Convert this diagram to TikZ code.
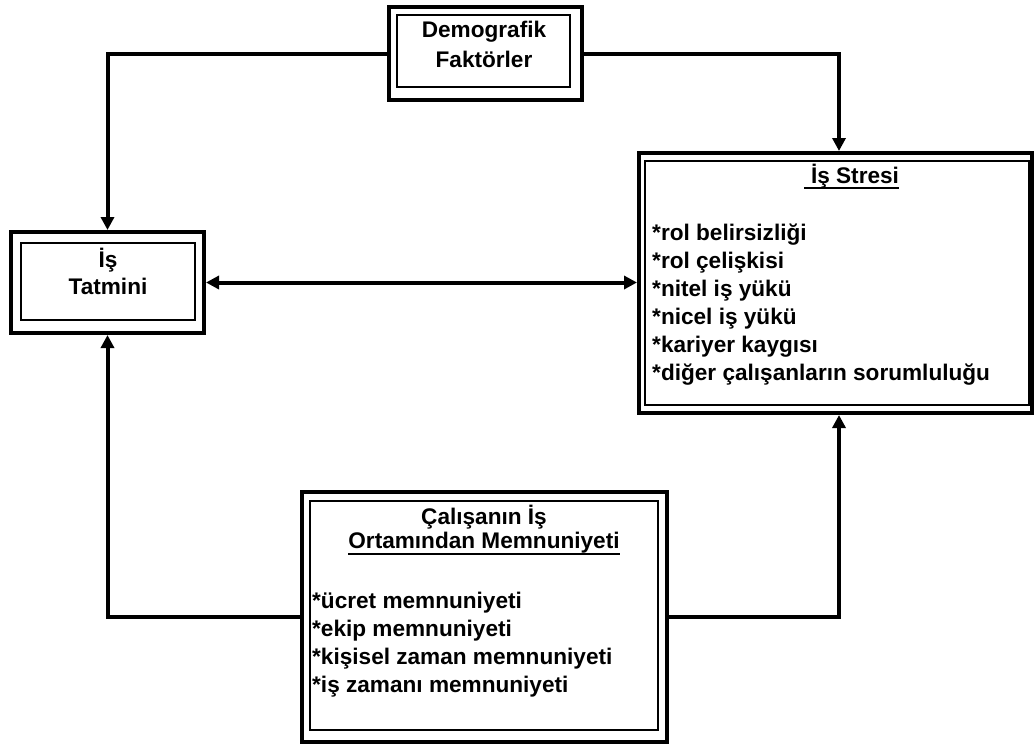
\documentclass[tikz,border=0pt]{standalone}
\usepackage{fontspec}
\setmainfont{Liberation Sans}
\usetikzlibrary{arrows.meta,calc}
\begin{document}
\begin{tikzpicture}[x=1pt,y=-1pt,
  outerbox/.style={draw,line width=4pt,inner sep=0pt},
  innerbox/.style={draw,line width=1.5pt,inner sep=0pt},
  txt/.style={font=\bfseries\fontsize{22.6}{28}\selectfont,inner sep=0pt},
  conn/.style={line width=4pt},
  arr/.style={conn,-{Triangle[length=13pt,width=13pt]}},
  darr/.style={conn,{Triangle[length=13pt,width=13pt]}-{Triangle[length=13pt,width=13pt]}},
  uline/.style={line width=2pt}]
\useasboundingbox (0,0) rectangle (1035,745);

% boxes
\node[outerbox,minimum width=193pt,minimum height=93pt] (demo) at (485.5,53.5) {};
\node[innerbox,minimum width=173pt,minimum height=72pt] (demoin) at (483.5,51) {};
\node[outerbox,minimum width=193pt,minimum height=101pt] (tat) at (107.5,282.5) {};
\node[innerbox,minimum width=174pt,minimum height=77pt] (tatin) at (108,281.5) {};
\node[outerbox,minimum width=393pt,minimum height=260pt] (stres) at (835.5,283) {};
\node[innerbox,minimum width=384pt,minimum height=244pt] (stresin) at (837,283) {};
\node[outerbox,minimum width=365pt,minimum height=250pt] (memn) at (484.5,617) {};
\node[innerbox,minimum width=348pt,minimum height=229pt] (memnin) at (484,615.5) {};

% texts
\node[txt,anchor=base] (d1) at (484,37) {Demografik};
\node[txt,anchor=base] (d2) at (484,67) {Faktörler};
\node[txt,anchor=base] (t1) at (108,267) {İş};
\node[txt,anchor=base] (t2) at (108,294) {Tatmini};
\node[txt,anchor=base] (st) at (855,183) {İş Stresi};
\draw[uline] ($(st.base west)+(-6.5,4.5)$) -- ($(st.base east)+(0,4.5)$);
\foreach \t [count=\i] in {*rol belirsizliği,*rol çelişkisi,*nitel iş yükü,*nicel iş yükü,*kariyer kaygısı,*diğer çalışanların sorumluluğu}
  \node[txt,anchor=base west] (s\i) at (652,{240+28.1*(\i-1)}) {\t};
\node[txt,anchor=base] (m1) at (484,524) {Çalışanın İş};
\node[txt,anchor=base] (m2) at (484,548) {Ortamından Memnuniyeti};
\draw[uline] ($(m2.base west)+(0,5.5)$) -- ($(m2.base east)+(0,5.5)$);
\foreach \t [count=\i] in {*ücret memnuniyeti,*ekip memnuniyeti,*kişisel zaman memnuniyeti,*iş zamanı memnuniyeti}
  \node[txt,anchor=base west] (e\i) at (312,{608+28.3*(\i-1)}) {\t};

% connectors
\coordinate (sx) at (839,0);
\draw[arr] (demo.west) -| (tat.north);
\draw[arr] (demo.east) -| (sx |- stres.north);
\draw[darr] (tat.east) -- (tat.east -| stres.west);
\draw[arr] (memn.west) -| (tat.south);
\draw[arr] (memn.east) -| (sx |- stres.south);
\end{tikzpicture}
\end{document}
